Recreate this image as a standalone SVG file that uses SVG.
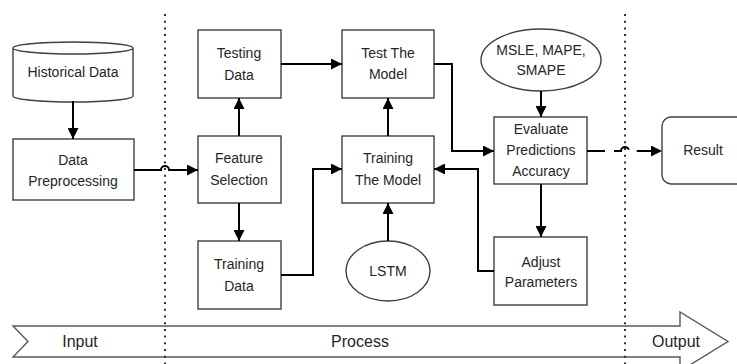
<svg xmlns="http://www.w3.org/2000/svg" width="737" height="364" viewBox="0 0 737 364">
<defs>
<marker id="ah" viewBox="0 0 10 10" refX="10" refY="5" markerWidth="5.5" markerHeight="5.5" orient="auto" markerUnits="strokeWidth">
<path d="M0,0 L10,5 L0,10 Z" fill="#000"/>
</marker>
<style>
.box{fill:#fff;stroke:#404040;stroke-width:1.4}
.t{font-family:"Liberation Sans",Arial,sans-serif;font-size:14px;fill:#262626;text-anchor:middle;dominant-baseline:central}
.b{font-size:16px}
.c{fill:none;stroke:#000;stroke-width:2}
.dot{stroke:#333;stroke-width:2;stroke-dasharray:2 4.7;fill:none}
</style>
</defs>
<rect width="737" height="364" fill="#fff"/>
<g id="band">
<path d="M13,326 H680 V312 L728,341.5 L680,371 V357 H13 L28,341.5 Z" fill="#fff" stroke="#595959" stroke-width="1.4"/>
<text class="t b" x="80" y="341">Input</text>
<text class="t b" x="360" y="341">Process</text>
<text class="t b" x="676" y="341">Output</text>
</g>
<g id="dividers">
<line class="dot" x1="165" y1="14" x2="165" y2="364"/>
<line class="dot" x1="625" y1="14" x2="625" y2="364"/>
</g>
<g id="historical">
<path class="box" d="M13,48 V96 A60,6 0 0 0 133,96 V48 A60,6 0 0 0 13,48 A60,6 0 0 0 133,48"/>
<text class="t" x="73" y="72">Historical Data</text>
</g>
<g id="preprocessing">
<rect class="box" x="13" y="139" width="121" height="61"/>
<text class="t" x="73" y="160">Data</text>
<text class="t" x="73" y="181">Preprocessing</text>
</g>
<g id="testing-data">
<rect class="box" x="198" y="30" width="83" height="68"/>
<text class="t" x="239" y="53">Testing</text>
<text class="t" x="239" y="75">Data</text>
</g>
<g id="feature-selection">
<rect class="box" x="198" y="136" width="83" height="67"/>
<text class="t" x="239" y="158">Feature</text>
<text class="t" x="239" y="180">Selection</text>
</g>
<g id="training-data">
<rect class="box" x="198" y="241" width="83" height="68"/>
<text class="t" x="239" y="264">Training</text>
<text class="t" x="239" y="286">Data</text>
</g>
<g id="test-model">
<rect class="box" x="342" y="30" width="92" height="68"/>
<text class="t" x="388" y="53">Test The</text>
<text class="t" x="388" y="74">Model</text>
</g>
<g id="training-model">
<rect class="box" x="342" y="136" width="92" height="67"/>
<text class="t" x="388" y="158">Training</text>
<text class="t" x="388" y="180">The Model</text>
</g>
<g id="lstm">
<ellipse class="box" cx="388" cy="271" rx="42" ry="30"/>
<text class="t" x="388" y="271">LSTM</text>
</g>
<g id="metrics">
<ellipse class="box" cx="541" cy="60" rx="60" ry="31"/>
<text class="t" x="541" y="50">MSLE, MAPE,</text>
<text class="t" x="541" y="70">SMAPE</text>
</g>
<g id="evaluate">
<rect class="box" x="494" y="117" width="93" height="67"/>
<text class="t" x="541" y="129">Evaluate</text>
<text class="t" x="541" y="150">Predictions</text>
<text class="t" x="541" y="171">Accuracy</text>
</g>
<g id="adjust">
<rect class="box" x="494" y="237" width="93" height="68"/>
<text class="t" x="541" y="262">Adjust</text>
<text class="t" x="541" y="282">Parameters</text>
</g>
<g id="result">
<rect class="box" x="662" y="117" width="90" height="67" rx="9"/>
<text class="t" x="703" y="150">Result</text>
</g>
<g id="connectors">
<path class="c" d="M73,101 V139" marker-end="url(#ah)"/>
<path class="c" d="M134,170 H161 A4,4 0 0 1 169,170 H198" marker-end="url(#ah)"/>
<path class="c" d="M239,136 V98" marker-end="url(#ah)"/>
<path class="c" d="M239,203 V241" marker-end="url(#ah)"/>
<path class="c" d="M281,64 H342" marker-end="url(#ah)"/>
<path class="c" d="M281,275 H313 V169 H342" marker-end="url(#ah)"/>
<path class="c" d="M388,136 V98" marker-end="url(#ah)"/>
<path class="c" d="M388,241 V203" marker-end="url(#ah)"/>
<path class="c" d="M434,64 H452 V151 H494" marker-end="url(#ah)"/>
<path class="c" d="M541,91 V117" marker-end="url(#ah)"/>
<path class="c" d="M541,184 V237" marker-end="url(#ah)"/>
<path class="c" d="M494,271 H478 V169 H434" marker-end="url(#ah)"/>
<path class="c" d="M587,151 H621 A4,4 0 0 1 629,151 H662" stroke-dasharray="18 9" marker-end="url(#ah)"/>
</g>
</svg>
